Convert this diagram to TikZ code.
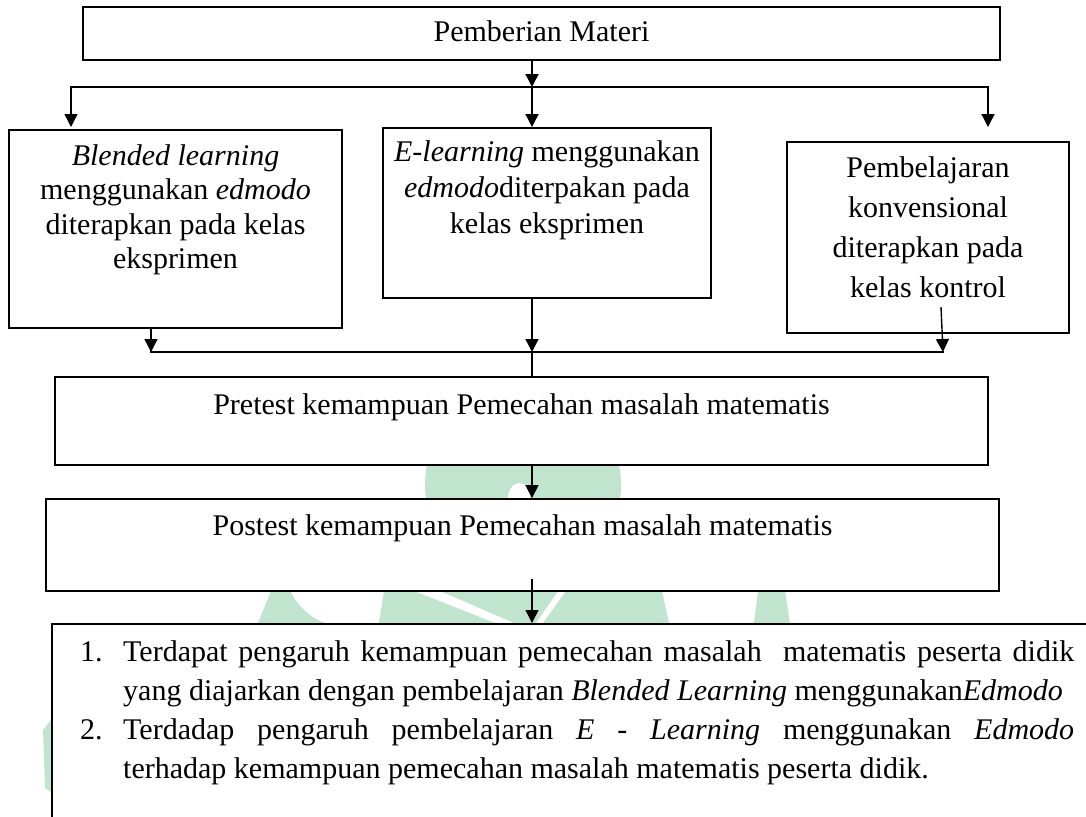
\documentclass[tikz,border=0pt]{standalone}
\usepackage{fontspec}
\setmainfont{Liberation Serif}
\usetikzlibrary{arrows.meta}
\definecolor{wmgreen}{RGB}{193,228,206}
\begin{document}
\begin{tikzpicture}[x=1pt,y=-1pt,
  box/.style={draw=black, line width=1.8pt, fill=white, rectangle, inner sep=0pt},
  conn/.style={line width=1.4pt, draw=black},
  arr/.style={conn, -{Triangle[length=13pt,width=13pt]}},
  txt/.style={inner sep=0pt, anchor=base, font=\fontsize{30}{36}\selectfont},
  wm/.style={fill=wmgreen}]
\useasboundingbox (0,0) rectangle (1086,816);
\clip (0,0) rectangle (1086,816);
\fill[white] (0,0) rectangle (1086,816);
% faint watermark behind the boxes (only visible in the gaps)
\fill[wm] (523,485) circle (98);
\fill[white] (519,499) ellipse (11 and 16);
\begin{scope}
\clip (0,591) rectangle (1086,623);
\fill[wm] (271,591) -- (290,591) .. controls (298,606) and (310,618) .. (325,623) -- (258,623) -- cycle;
\fill[wm] (384,591) -- (414,591) -- (495,623) -- (379,623) -- cycle;
\fill[wm] (440,591) -- (558,591) -- (536,623) -- (514,623) -- cycle;
\fill[wm] (566,591) -- (662,591) -- (669,623) -- (543,623) -- cycle;
\fill[wm] (758,591) -- (785,591) -- (790,623) -- (754,623) -- cycle;
\end{scope}
\fill[wm] (43,730) -- (51,720) -- (51,792) -- (45,788) -- cycle;
% boxes
\node[box, minimum width=917pt, minimum height=53pt] (top) at (541.5,33.5) {};
\node[box, minimum width=333pt, minimum height=198pt] (lb) at (175.5,229) {};
\node[box, minimum width=328pt, minimum height=170pt] (mb) at (547,213) {};
\node[box, minimum width=282pt, minimum height=191pt] (rb) at (928,237.5) {};
\node[box, minimum width=933pt, minimum height=88pt] (pre) at (521.5,421) {};
\node[box, minimum width=953pt, minimum height=92pt] (post) at (522.5,545) {};
\node[box, anchor=north west, minimum width=1100pt, minimum height=260pt] (res) at (51,623) {};
% texts
\node[txt] (t0) at (541.5,41.7) {Pemberian Materi};
\node[txt] (l1) at (175.5,165) {\textit{Blended learning}};
\node[txt] (l2) at (175.5,199.5) {menggunakan \textit{edmodo}};
\node[txt] (l3) at (175.5,234) {diterapkan pada kelas};
\node[txt] (l4) at (175.5,268.5) {eksprimen};
\node[txt] (m1) at (547,161.5) {\textit{E-learning} menggunakan};
\node[txt] (m2) at (547,197.5) {\textit{edmodo}diterpakan pada};
\node[txt] (m3) at (547,233.5) {kelas eksprimen};
\node[txt] (r1) at (928,177) {Pembelajaran};
\node[txt] (r2) at (928,217) {konvensional};
\node[txt] (r3) at (928,257) {diterapkan pada};
\node[txt] (r4) at (928,297) {kelas kontrol};
\node[txt] (p1) at (521.5,414) {Pretest kemampuan Pemecahan masalah matematis};
\node[txt] (q1) at (522.5,535) {Postest kemampuan Pemecahan masalah matematis};
\node[txt, anchor=base west] (n1) at (80,661) {1.};
\node[txt, anchor=base west] (s1) at (123,661) {\makebox[951pt][s]{Terdapat pengaruh kemampuan pemecahan masalah\ \ matematis peserta didik}};
\node[txt, anchor=base west] (s2) at (123,700) {yang diajarkan dengan pembelajaran \textit{Blended Learning} menggunakan\textit{Edmodo}};
\node[txt, anchor=base west] (n2) at (80,739) {2.};
\node[txt, anchor=base west] (s3) at (123,739) {\makebox[951pt][s]{Terdadap pengaruh pembelajaran \textit{E} - \textit{Learning} menggunakan \textit{Edmodo}}};
\node[txt, anchor=base west] (s4) at (123,778) {terhadap kemampuan pemecahan masalah matematis peserta didik.};
% connectors
\coordinate (j0) at (532,87);
\coordinate (al) at (71,127);
\coordinate (am) at (532,127);
\coordinate (ar) at (988,127);
\draw[arr] (top.south -| j0) -- (j0);
\draw[arr] (j0) -| (al);
\draw[arr] (j0) -| (ar);
\draw[arr] (j0) -- (am);
\coordinate (ml) at (151,352);
\coordinate (m0) at (532,352);
\coordinate (mr) at (943,352);
\coordinate (rs) at (941,307);
\draw[arr] (lb.south -| ml) -- (ml);
\draw[arr] (mb.south -| m0) -- (m0);
\draw[arr] (rs) -- (mr);
\draw[conn, line cap=rect] (ml) -- (mr);
\draw[conn] (m0) -- (pre.north -| m0);
\draw[arr] (pre.south -| m0) -- (post.north -| m0);
\coordinate (ps) at (532,579);
\draw[arr] (ps) -- (res.north -| ps);
\end{tikzpicture}
\end{document}
